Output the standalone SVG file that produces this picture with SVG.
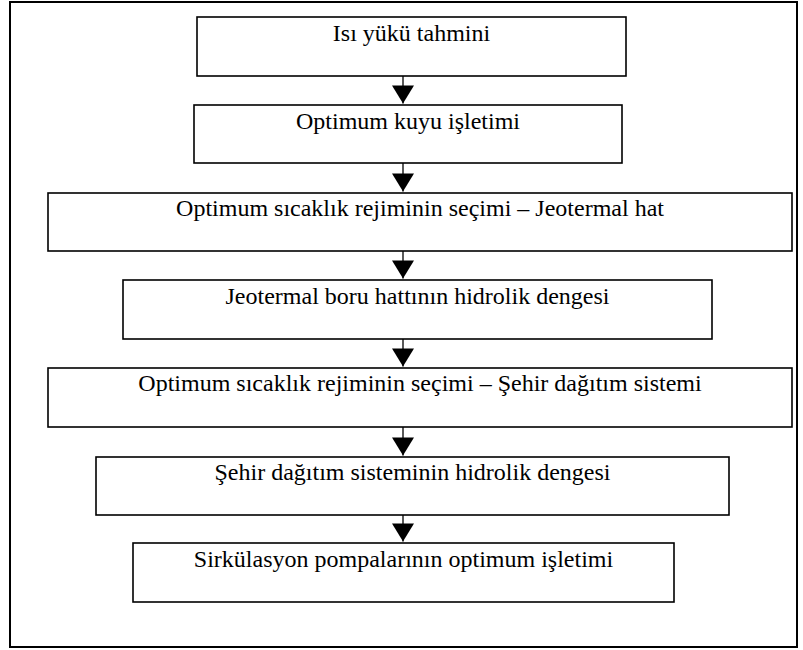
<svg xmlns="http://www.w3.org/2000/svg" width="803" height="650" viewBox="0 0 803 650">
<style>
.box{fill:#fff;stroke:#000;stroke-width:1.6}
.lbl{font-family:"Liberation Serif","Times New Roman",serif;font-size:24px;fill:#000;text-anchor:middle}
.con{stroke:#000;stroke-width:1.3;fill:none}
</style>
<defs>
<marker id="ah" markerUnits="userSpaceOnUse" markerWidth="22" markerHeight="22" viewBox="0 0 18 22" refX="18" refY="11" orient="auto">
<path d="M0,0 L18,11 L0,22 Z" fill="#000"/>
</marker>
</defs>
<rect x="10" y="2" width="787" height="645" fill="#fff" stroke="#000" stroke-width="2"/>
<g id="connectors">
<line class="con" x1="403" y1="76" x2="403" y2="103.5" marker-end="url(#ah)"/>
<line class="con" x1="403" y1="163" x2="403" y2="191.5" marker-end="url(#ah)"/>
<line class="con" x1="403" y1="251" x2="403" y2="278.5" marker-end="url(#ah)"/>
<line class="con" x1="403" y1="339" x2="403" y2="366.5" marker-end="url(#ah)"/>
<line class="con" x1="403" y1="427" x2="403" y2="455.5" marker-end="url(#ah)"/>
<line class="con" x1="403" y1="515" x2="403" y2="541.5" marker-end="url(#ah)"/>
</g>
<g id="n1"><rect class="box" x="197" y="17" width="429" height="59"/><text class="lbl" x="411.5" y="41">Isı yükü tahmini</text></g>
<g id="n2"><rect class="box" x="194" y="105" width="428" height="58"/><text class="lbl" x="408" y="129">Optimum kuyu işletimi</text></g>
<g id="n3"><rect class="box" x="48" y="193" width="744" height="58"/><text class="lbl" x="420" y="216">Optimum sıcaklık rejiminin seçimi – Jeotermal hat</text></g>
<g id="n4"><rect class="box" x="123" y="280" width="589" height="59"/><text class="lbl" x="417.5" y="304">Jeotermal boru hattının hidrolik dengesi</text></g>
<g id="n5"><rect class="box" x="48" y="368" width="744" height="59"/><text class="lbl" x="420" y="391">Optimum sıcaklık rejiminin seçimi – Şehir dağıtım sistemi</text></g>
<g id="n6"><rect class="box" x="96" y="457" width="633" height="58"/><text class="lbl" x="412.5" y="480">Şehir dağıtım sisteminin hidrolik dengesi</text></g>
<g id="n7"><rect class="box" x="133" y="543" width="541" height="59"/><text class="lbl" x="403.5" y="567">Sirkülasyon pompalarının optimum işletimi</text></g>
</svg>
